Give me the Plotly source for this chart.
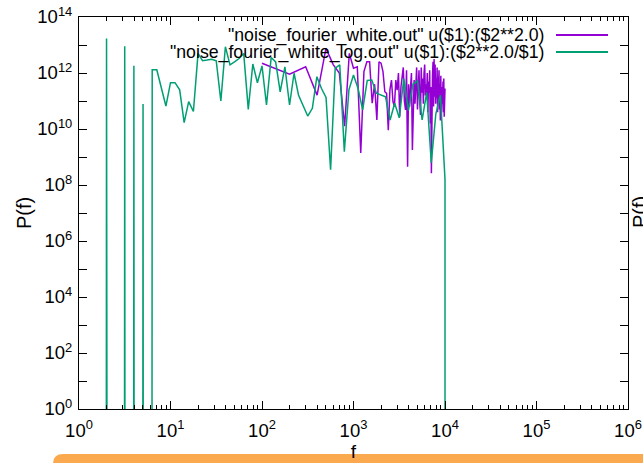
import plotly.graph_objects as go

# ---- data ----
# "noise_fourier_white.out" : linear frequencies, P = $2**2
f_white = [100, 200, 300, 400, 500, 600, 700, 800, 900,
           1000, 1100, 1200, 1300, 1400, 1500, 1600, 1700, 1800, 1900,
           2000, 2100, 2200, 2300, 2400, 2500, 2600, 2700, 2800, 2900,
           3000, 3100, 3200, 3300, 3400, 3500, 3600, 3700, 3800, 3900,
           4000, 4100, 4200, 4300, 4400, 4500, 4600, 4700, 4800, 4900,
           5000, 5100, 5200, 5300, 5400, 5500, 5600, 5700, 5800, 5900,
           6000, 6100, 6200, 6300, 6400, 6500, 6600, 6700, 6800, 6900,
           7000, 7100, 7200, 7300, 7400, 7500, 7600, 7700, 7800, 7900,
           8000, 8100, 8200, 8300, 8400, 8500, 8600, 8700, 8800, 8900,
           9000, 9100, 9200, 9300, 9400, 9500, 9600, 9700, 9800, 9900, 10000]
p_white_exp = [12.35, 11.96, 12.22, 11.21, 12.88, 12.3, 12.0, 10.1, 12.7,
               12.17, 12.22, 9.14, 12.05, 12.4, 12.4, 10.92, 11.6, 10.32, 12.4,
               12.35, 12.05, 11.33, 11.27, 9.96, 11.4, 11.75, 10.98, 10.8, 11.75,
               11.39, 12.0, 10.44, 11.5, 11.93, 12.2, 11.0, 10.68, 12.1, 8.65,
               11.6, 10.8, 11.51, 12.0, 9.25, 11.2, 11.75, 10.9, 11.75, 12.2,
               10.7, 11.9, 12.1, 11.0, 10.5, 12.2, 11.3, 11.8, 10.9, 11.99,
               12.3, 11.2, 11.6, 11.15, 12.0, 10.6, 11.7, 11.3, 12.1, 10.2,
               11.5, 8.42, 11.0, 11.9, 12.4, 10.8, 12.5, 11.15, 12.3, 10.9,
               11.8, 11.1, 12.2, 10.6, 11.87, 11.4, 12.1, 10.7, 11.6, 10.3,
               11.9, 10.44, 11.2, 11.5, 10.9, 11.7, 10.6, 11.8, 10.44, 11.3, 11.45]

# "noise_fourier_white_log.out" : log-binned frequencies, P = $2**2/$1
# (1e-300 stands for the empty bins, which fall far below the plotted range)
f_log = [1.78, 2.0, 2.24, 2.51, 2.82, 3.16, 3.55, 3.98, 4.47, 5.01, 5.62,
         6.31, 7.08, 7.94, 8.91, 10.0, 11.2, 12.6, 14.1, 15.8, 17.8,
         20.0, 22.4, 25.1, 28.2, 31.6, 35.5, 39.8, 44.7, 50.1, 56.2,
         63.1, 70.8, 79.4, 89.1, 100, 112, 126, 141, 158, 178,
         200, 224, 251, 282, 316, 355, 398, 447, 501, 562,
         631, 708, 794, 891, 1000, 1122, 1259, 1413, 1585, 1778,
         1995, 2239, 2512, 2818, 3162, 3548, 3981, 4467, 5012, 5623,
         6310, 7079, 7943, 8913, 10000, 10000]
p_log = [1e-300, 1.7e13, 1e-300, 1e-300, 1e-300, 9.1e12, 1e-300, 1.8e12, 1e-300, 7.8e10, 1e-300,
         1.3e12, 1.3e12, 3.2e11, 6.6e10, 4.5e11, 4.5e11, 2.5e11, 1.7e10, 9.5e10, 4.2e10,
         5.0e12, 2.75e12, 2.9e12, 3.1e12, 2.75e12, 1.0e11, 8.7e12, 1.95e12, 2.5e12, 3.3e12,
         5.0e12, 5.0e10, 2.1e12, 4.5e11, 1.8e12, 7.2e10, 3.6e12, 2.5e12, 2.1e11, 1.66e12,
         7.2e10, 9.8e11, 1.6e11, 6.3e10, 2.9e10, 5.5e10, 7.4e11, 2.8e11, 1.35e11, 3.5e8,
         1.5e12, 1.95e12, 1.55e9, 2.5e11, 8.5e11, 2.8e11, 4.8e10, 5.4e11, 5.6e11, 1.9e11,
         1.6e11, 1.4e11, 2.1e10, 8.3e10, 2.5e10, 6.3e11, 4.5e10, 4.0e11, 5.2e11, 2.1e10,
         2.0e11, 6.3e8, 3.5e10, 1.6e11, 1.6e8, 1e-300]

x_tick_exps = [0, 1, 2, 3, 4, 5, 6]
y_tick_exps = list(range(0, 15))

name_white = '"noise_fourier_white.out" u($1):($2**2.0)'
name_log = '"noise_fourier_white_log.out" u($1):($2**2.0/$1)'

PURPLE = "#9400D3"
GREEN = "#009E73"
FONT = "Liberation Sans, Arial, sans-serif"

p_white = [10 ** e for e in p_white_exp]

fig = go.Figure()
fig.add_trace(go.Scatter(x=f_white, y=p_white, mode="lines", name=name_white,
                         line=dict(color=PURPLE, width=1.5), showlegend=False))
fig.add_trace(go.Scatter(x=f_log, y=p_log, mode="lines", name=name_log,
                         line=dict(color=GREEN, width=1.5), showlegend=False))

x_minor = [m * 10 ** d for d in range(0, 6) for m in range(2, 10)]

fig.update_xaxes(
    type="log", range=[0, 6],
    tickmode="array", tickvals=[10 ** e for e in x_tick_exps],
    ticktext=["10<sup>%d</sup>" % e for e in x_tick_exps],
    ticks="inside", ticklen=8, tickwidth=1, tickcolor="black",
    minor=dict(tickmode="array", tickvals=x_minor, ticks="inside", ticklen=4,
               tickwidth=1, tickcolor="black", showgrid=False),
    showline=True, linecolor="black", linewidth=1, mirror="allticks",
    showgrid=False, zeroline=False,
    tickfont=dict(family=FONT, size=18.5, color="black"),
    ticklabelstandoff=5,
    title=dict(text="f", font=dict(family=FONT, size=19, color="black"), standoff=0),
    automargin=False,
)
fig.update_yaxes(
    type="log", range=[0, 14],
    tickmode="array", tickvals=[10 ** e for e in y_tick_exps],
    ticktext=[("10<sup>%d</sup>" % e) if e % 2 == 0 else "" for e in y_tick_exps],
    ticks="inside", ticklen=8, tickwidth=1, tickcolor="black",
    showline=True, linecolor="black", linewidth=1, mirror="allticks",
    showgrid=False, zeroline=False,
    tickfont=dict(family=FONT, size=18.5, color="black"),
    ticklabelstandoff=2,
    title=dict(text="P(f)", font=dict(family=FONT, size=20, color="black"), standoff=0),
    automargin=False,
)

W, H = 643, 463
L, R, T, B = 79, 15, 17, 54
pw, ph = W - L - R, H - T - B


def px(xp):
    return (xp - L) / pw


def py(yp):
    return 1 - (yp - T) / ph


annotations = []
shapes = []
for txt, color, yp in [(name_white, PURPLE, 35), (name_log, GREEN, 52)]:
    annotations.append(dict(x=px(546), y=py(yp), xref="paper", yref="paper",
                            text=txt, showarrow=False, xanchor="right", yanchor="middle",
                            font=dict(family=FONT, size=17.7, color="black")))
    shapes.append(dict(type="line", xref="paper", yref="paper",
                       x0=px(556), x1=px(608), y0=py(yp), y1=py(yp),
                       line=dict(color=color, width=1.8)))

# cut-off y label of the neighbouring chart at the right edge
annotations.append(dict(x=px(640), y=py(212), xref="paper", yref="paper", text="P(f)",
                        showarrow=False, textangle=-90, xanchor="center", yanchor="middle",
                        font=dict(family=FONT, size=20, color="black")))

# orange bar at the bottom of the page
x0, x1 = px(53), px(660)
yt, yb = py(454), py(480)
rx, ry = 10 / pw, 10 / ph
shapes.append(dict(type="path", xref="paper", yref="paper", layer="below",
                   path=f"M {x0},{yb} L {x0},{yt - ry} Q {x0},{yt} {x0 + rx},{yt} "
                        f"L {x1},{yt} L {x1},{yb} Z",
                   fillcolor="#FBA94F", line=dict(width=0)))

fig.update_layout(
    width=W, height=H,
    margin=dict(l=L, r=R, t=T, b=B, pad=0),
    paper_bgcolor="white", plot_bgcolor="white",
    annotations=annotations, shapes=shapes,
    showlegend=False,
)

fig.write_html("out.html")
